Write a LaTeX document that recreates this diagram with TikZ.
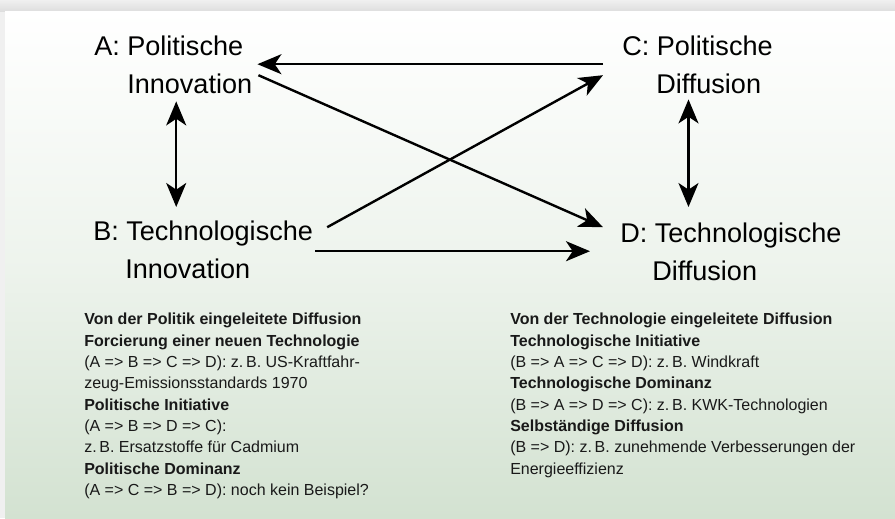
\documentclass[tikz,border=0pt]{standalone}
\usepackage{fontspec}
\setmainfont{Liberation Sans}
\usepackage{tikz}
\usetikzlibrary{arrows.meta,calc}
\usepackage{xcolor}
\definecolor{panelgreen}{RGB}{211,226,209}
\definecolor{shadowgray}{RGB}{222,222,222}
\definecolor{edgegray}{RGB}{240,240,240}
\definecolor{inkgray}{RGB}{25,25,25}

\begin{document}
\begin{tikzpicture}[x=0.75pt,y=-0.75pt,>={Stealth[length=18pt,width=15pt,inset=5pt]}]
\tikzset{
    lbl/.style={%
        inner sep=0pt,
        anchor=north west,
        align=left,
        text=black,
        font=\fontsize{20.3}{28.5}\selectfont
        },
    txt/.style={%
        inner sep=0pt,
        anchor=north west,
        align=left,
        text=inkgray,
        font=\fontsize{12}{16}\selectfont
        },
    conn/.style={%
        ->, line width=1.8pt
        },
}
%%%BACKGROUND
\useasboundingbox (0,0) rectangle (895,518);
\fill[edgegray] (0,0) rectangle (895,518);
\shade[top color=edgegray, bottom color=shadowgray] (0,0) rectangle (895,11);
\shade[top color=white, bottom color=panelgreen, middle color=panelgreen!40!white] (5,11) rectangle (895,518);
%%%LABELS
\node[lbl] (a) at (94,36) {A: Politische\\\hspace*{24.75pt}Innovation};
\node[lbl] (b) at (93,221) {B: Technologische\\\hspace*{24pt}Innovation};
\node[lbl] (c) at (622,36) {C: Politische\\\hspace*{25.5pt}Diffusion};
\node[lbl] (d) at (620,223) {D: Technologische\\\hspace*{24pt}Diffusion};
%%%NOTES
\node[txt] (t1) at (84,313) {\textbf{Von der Politik eingeleitete Diffusion}\\
\textbf{Forcierung einer neuen Technologie}\\
(A => B => C => D): z.\,B. US-Kraftfahr-\\
zeug-Emissionsstandards 1970\\
\textbf{Politische Initiative}\\
(A => B => D => C):\\
z.\,B. Ersatzstoffe für Cadmium\\
\textbf{Politische Dominanz}\\
(A => C => B => D): noch kein Beispiel?};
\node[txt] (t2) at (510,313) {\textbf{Von der Technologie eingeleitete Diffusion}\\
\textbf{Technologische Initiative}\\
(B => A => C => D): z.\,B. Windkraft\\
\textbf{Technologische Dominanz}\\
(B => A => D => C): z.\,B. KWK-Technologien\\
\textbf{Selbständige Diffusion}\\
(B => D): z.\,B. zunehmende Verbesserungen der\\
Energieeffizienz};
%%%CONNECTORS
\draw[conn] ($(c.west)+(-19,-1)$) -- ($(a.east)+(5,-1)$);
\draw[conn] ($(a.east)+(6,10)$) -- ($(d.west)+(-17,-25)$);
\draw[conn] ($(b.east)+(14,-23)$) -- ($(c.west)+(-19,10)$);
\draw[conn] ($(b.east)+(2,1)$) -- ($(d.west)+(-30,-1)$);
\draw[conn, <->] ($(a.south)+(3,7)$) -- ($(a.south |- b.north)+(3,-14)$);
\draw[conn, <->] ($(c.south)+(-9,5)$) -- ($(c.south |- d.north)+(-9,-16)$);
\end{tikzpicture}
\end{document}
